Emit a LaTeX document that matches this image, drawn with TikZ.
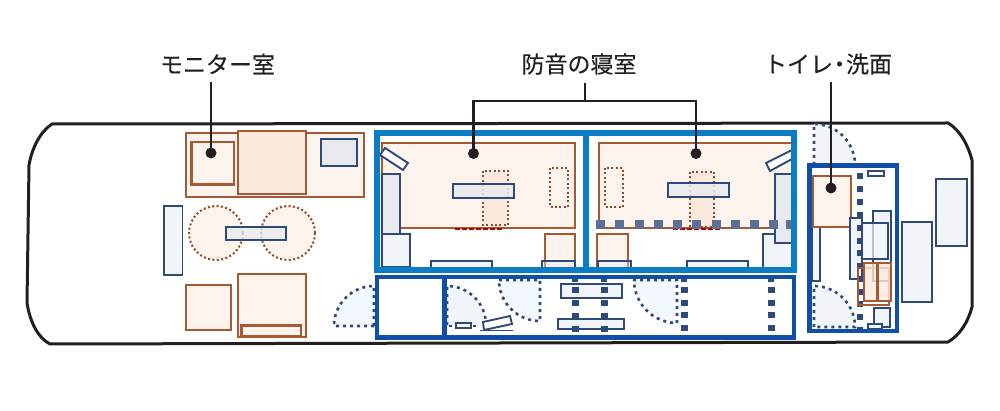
\documentclass[tikz,border=0pt]{standalone}
\usepackage{fontspec}
\newfontfamily\jp[FakeBold=0.25]{Noto Sans CJK JP}
\definecolor{brn}{HTML}{A65A34}
\definecolor{peach}{HTML}{FDF3ED}
\definecolor{peachd}{HTML}{FCEADF}
\definecolor{navy}{HTML}{2F4A78}
\definecolor{pale}{HTML}{F1F5FA}
\definecolor{palegray}{HTML}{E8EAEF}
\definecolor{sky}{HTML}{F2F8FD}
\definecolor{frameA}{HTML}{0A7DC4}
\definecolor{frameB}{HTML}{0F4FA8}
\definecolor{pad}{HTML}{5C7096}
\definecolor{ink}{HTML}{231F20}
\tikzset{
 hull/.style={draw=ink,line width=3pt,line join=round,fill=white},
 warm/.style={draw=brn,line width=1.7pt,fill=peach},
 warmheavy/.style={draw=brn,line width=2.2pt,fill=peach},
 warmd/.style={draw=brn,line width=2.2pt,fill=peachd},
 warmopen/.style={draw=brn,line width=1.8pt},
 cool/.style={draw=navy,line width=1.9pt,fill=pale},
 coolg/.style={draw=navy,line width=1.9pt,fill=palegray},
 white box/.style={draw=navy,line width=1.9pt,fill=white},
 dotbrn/.style={draw=brn!85!black,line width=2pt,dash pattern=on 2pt off 2.4pt,fill=peach},
 dotdoor/.style={draw=navy,line width=2.6pt,dash pattern=on 3pt off 4pt,fill=sky},
 redline/.style={draw=red!70!black,line width=2pt,dash pattern=on 5pt off 2pt},
 frameone/.style={draw=frameA,line width=6pt},
 frametwo/.style={draw=frameB,line width=4.5pt},
 lead/.style={draw=ink,line width=2.5pt},
 dotmark/.style={circle,fill=ink,inner sep=0pt,minimum size=11pt},
 lab/.style={font=\jp\fontsize{23}{23}\selectfont,text=ink,inner sep=0pt,anchor=center},
}
\begin{document}
\begin{tikzpicture}[x=1pt,y=-1pt]
\useasboundingbox (0,0) rectangle (1000,411);
% hull
\draw[hull] (52,124) -- (948,123) .. controls (960,130) and (968,145) .. (972,160) -- (972,307) .. controls (968,322) and (960,335) .. (948,342) -- (50,344) .. controls (38,338) and (30,322) .. (27,303) -- (29,165) .. controls (32,148) and (40,132) .. (52,124) -- cycle;
% monitor room furniture
\draw[warm] (186,133) rectangle (364,197);
\draw[warmheavy] (191.5,142) rectangle (234,184.5);
\draw[warmd] (238,131) rectangle (306,194);
\draw[coolg] (321,139) rectangle (357,166);
\draw[cool] (164,206) rectangle (182.5,275);
\draw[dotbrn] (216,233) circle (27);
\draw[dotbrn] (288,233) circle (27);
\draw[coolg,fill opacity=.8] (226,227) rectangle (286,240);
\draw[warm] (186,285) rectangle (231,330);
\draw[warm] (238,274) rectangle (306,337);
\draw[warmheavy] (241.5,325.5) rectangle (301,336);
% room 1
\draw[warm] (382,143) rectangle (575,228);
\draw[redline] (455,229) -- (502,229);
\draw[coolg] (382,174) rectangle (400,243);
\draw[cool] (382,234) rectangle (410,267);
\draw[white box] (380,155) -- (385,148) -- (408,163) -- (403,170) -- cycle;
\draw[white box,fill=pale] (431,261) rectangle (492,268);
\draw[warm] (545,234) rectangle (575,268);
\draw[coolg,fill opacity=.4] (542,261) rectangle (575,268);
\draw[dotbrn,fill=peachd] (483,171) rectangle (508,225);
\draw[coolg,fill opacity=.85] (453,184) rectangle (514,198);
\draw[dotbrn] (550,168) rectangle (568,207);
% room 2
\draw[warm] (599,143) rectangle (792,228);
\draw[redline] (673,229) -- (721,229);
\draw[warm] (597,234) rectangle (628,268);
\draw[coolg,fill opacity=.4] (598,261) rectangle (631,268);
\draw[white box,fill=pale] (687,261) rectangle (748,268);
\draw[cool] (763,234) rectangle (792,268);
\draw[coolg] (775,174) rectangle (792,243);
\draw[white box] (766,163) -- (770,171) -- (792,159) -- (792,150) -- cycle;
\draw[dotbrn,fill=peachd] (690,172) rectangle (714,227);
\draw[coolg,fill opacity=.85] (668,183) rectangle (729,197);
\draw[dotbrn] (605,168) rectangle (623,207);
\foreach \x in {600,619,639,658,677,696,716,735,754,773}
  \fill[pad] (\x-4.5,220.5) rectangle (\x+4.5,229.5);
\fill[pad] (786,220.5) rectangle (791,229.5);
% corridor doors
\draw[dotdoor] (374,326) -- plot[domain=180:270,samples=30] ({374+40*cos(\x)},{326+40*sin(\x)}) -- cycle;
\draw[dotdoor,fill=pale] (447,325) -- plot[domain=270:360,samples=30] ({447+39*cos(\x)},{325+39*sin(\x)});
\draw[dotdoor] (499,280) -- (540,280) -- (540,321) -- plot[domain=90:180,samples=30] ({540+41*cos(\x)},{280+41*sin(\x)});
\draw[dotdoor] (633,280) -- (677,280) -- (677,323) -- plot[domain=90:180,samples=30] ({677+43*cos(\x)},{280+43*sin(\x)});
% corridor details
\draw[cool] (561,284) rectangle (622,298);
\draw[cool] (558,319) rectangle (624,329);
\draw[navy,line width=2.4pt,dash pattern=on 3pt off 4pt] (449,326) -- (456,326);
\draw[white box,line width=1.4pt] (456,323) rectangle (471,328);
\draw[navy,line width=2.4pt,dash pattern=on 3pt off 4pt] (473,326) -- (480,326);
\draw[white box] (483,322) -- (510,316) -- (512,324) -- (484,330) -- cycle;
\draw[navy,line width=1.4pt] (480,330.5) -- (513,330.5);
\foreach \x in {575,604}{
  \foreach \y in {290,303,316,329}
    \fill[navy] (\x-3.5,\y-3.2) rectangle (\x+3.5,\y+3.2);
  \fill[navy] (\x-3,279) rectangle (\x+3,282);
}
\foreach \x in {684,771}{
  \foreach \y in {290,303,315,328}
    \fill[navy] (\x-3.5,\y-3.2) rectangle (\x+3.5,\y+3.2);
  \fill[navy] (\x-3,279) rectangle (\x+3,282);
}
% washroom
\draw[dotdoor,fill=pale] (814,165) -- (814,125) -- plot[domain=270:360,samples=30] ({814+41*cos(\x)},{165+41*sin(\x)});
\draw[dotdoor,fill=pale] (814,327) -- (814,286) -- plot[domain=270:360,samples=30] ({814+41*cos(\x)},{327+41*sin(\x)}) -- cycle;
\draw[white box,fill=sky] (812,213) rectangle (820,281);
\draw[warm] (813,176) rectangle (851,227);
\draw[white box] (868,171) rectangle (884,176);
\draw[cool] (850,218) rectangle (862,279);
\foreach \y in {176,189,202,215,228,241,253,266,279,292,304,317,330}
  \fill[navy] (857,\y-3) rectangle (863,\y+3);
\draw[cool] (873,211) rectangle (891,281);
\draw[cool,fill opacity=.7] (862,223) rectangle (888,259);
\draw[warmopen] (858,268) rectangle (889,305);
\draw[warm,fill=peachd,fill opacity=.8] (864,263) rectangle (877,301);
\draw[warm,fill=peachd,fill opacity=.8] (878,263) rectangle (891,301);
\draw[cool] (874,308) rectangle (890,327);
\draw[white box,fill=pale] (868,324) rectangle (882,329);
\draw[cool] (902,222) rectangle (932,302);
\draw[cool] (936,179) rectangle (967,246);
% frames
\draw[frameone] (377,133) rectangle (794,270);
\draw[frameone] (585.5,133) -- (585.5,270);
\draw[frametwo] (377,277) rectangle (794,337.5);
\draw[frametwo] (444.5,277) -- (444.5,337.5);
\draw[frametwo] (809.5,165.5) rectangle (897,331);
% labels and leaders
\node[lab] (monlabel) at (217.5,64) {モニター室};
\node[lab] (sleeplabel) at (579,64) {防音の寝室};
\node[lab] (washlabel) at (828,64) {トイレ\kern-5pt・\kern-5pt洗面};
\coordinate (montop) at (211,82);
\coordinate (sleeptop) at (585,83);
\coordinate (sleepjoin) at (585,101);
\coordinate (washtop) at (831,82);
\node[dotmark] (mondot) at (211,153) {};
\node[dotmark] (sleepa) at (473.5,153.5) {};
\node[dotmark] (sleepb) at (696,153.5) {};
\node[dotmark] (washdot) at (831,188) {};
\draw[lead] (montop) -- (mondot.center);
\draw[lead] (sleeptop) -- (sleepjoin);
\draw[lead,line join=miter] (sleepa.center) |- (sleepjoin) -| (sleepb.center);
\draw[lead] (washtop) -- (washdot.center);
\end{tikzpicture}
\end{document}
